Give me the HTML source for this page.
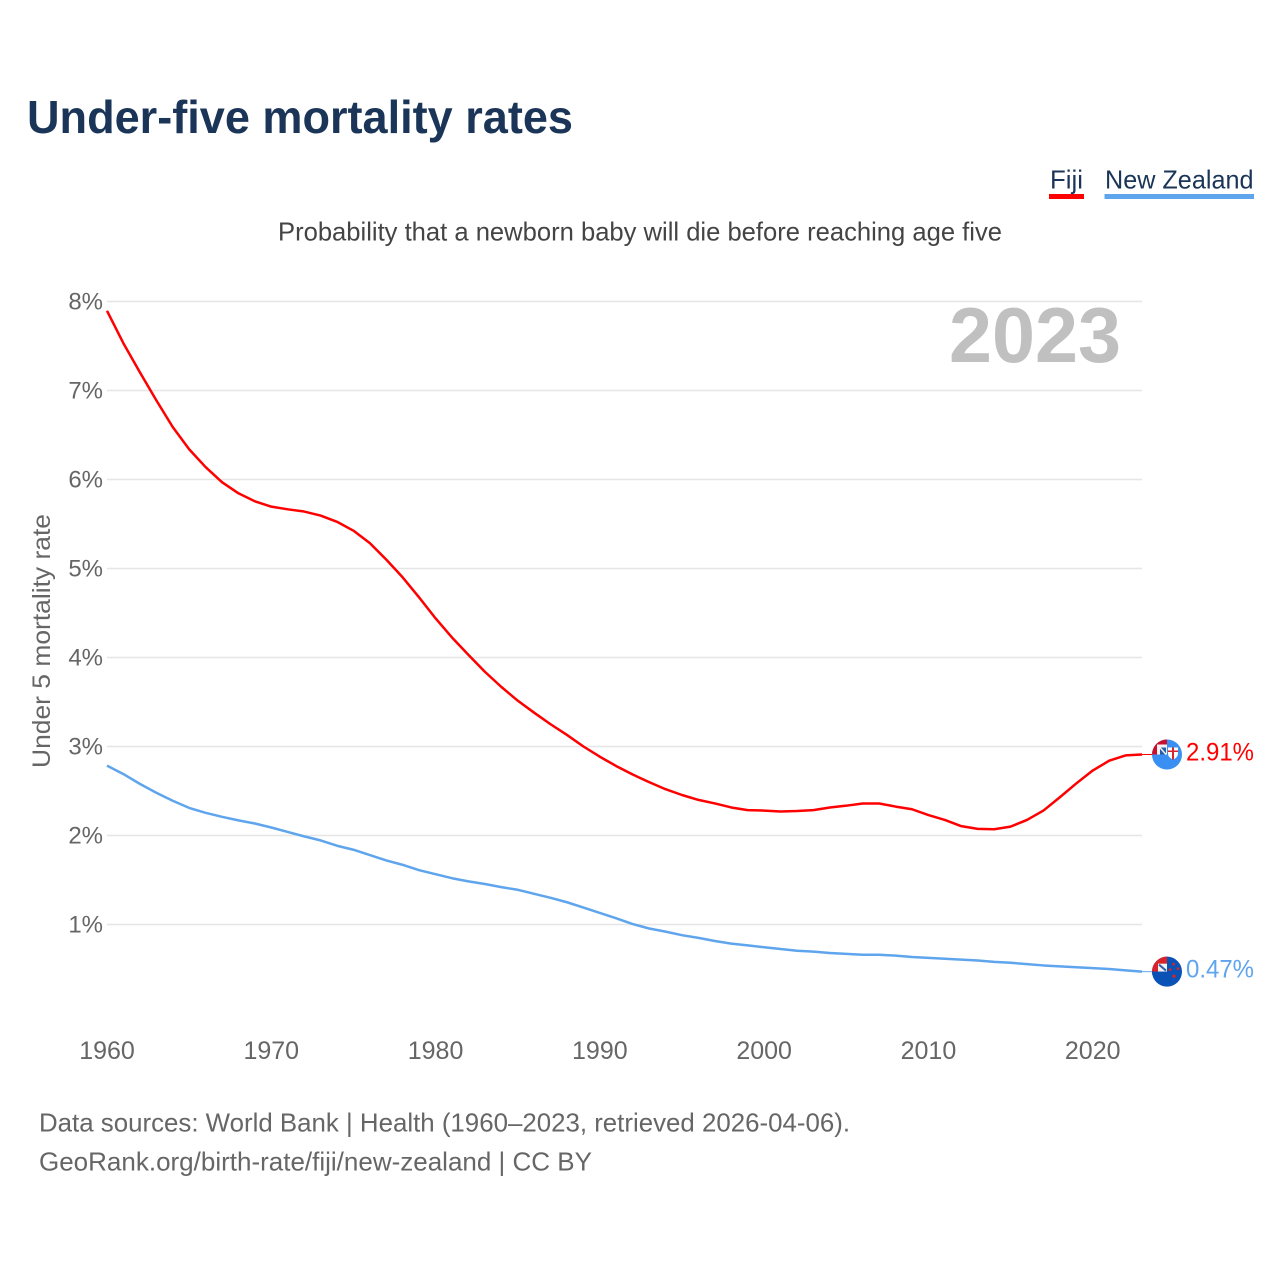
<!DOCTYPE html>
<html lang="en">
<head>
<meta charset="utf-8">
<title>Under-five mortality rates</title>
<style>
html,body{margin:0;padding:0;background:#fff;}
svg{display:block;}
text{font-family:"Liberation Sans",sans-serif;}
</style>
</head>
<body>
<svg id="chart" xmlns="http://www.w3.org/2000/svg" width="1280" height="1280" viewBox="0 0 1280 1280">
  <defs>
    <clipPath id="marker-clip"><circle cx="0" cy="0" r="15"></circle></clipPath>
  </defs>
  <rect x="0" y="0" width="1280" height="1280" fill="#ffffff"></rect>

  <text x="27" y="133" font-size="46" font-weight="700" fill="#1a3557" textLength="546" lengthAdjust="spacingAndGlyphs">Under-five mortality rates</text>

  <text x="1050" y="188.500" font-size="26" fill="#1a3557" textLength="33" lengthAdjust="spacingAndGlyphs">Fiji</text>
  <rect x="1049" y="194" width="35" height="5" fill="#ff0000"></rect>
  <text x="1105" y="188.500" font-size="26" fill="#1a3557" textLength="148.500" lengthAdjust="spacingAndGlyphs">New Zealand</text>
  <rect x="1104.5" y="194" width="149.5" height="5" fill="#5fa5ee"></rect>

  <text x="278" y="240.500" font-size="26" fill="#444444" textLength="724" lengthAdjust="spacingAndGlyphs">Probability that a newborn baby will die before reaching age five</text>

  <g id="grid"></g>
  <g id="y-ticks"></g>
  <g id="x-ticks"></g>

  <text transform="translate(50,768) rotate(-90)" x="0" y="0" font-size="25" fill="#666666" textLength="254" lengthAdjust="spacingAndGlyphs">Under 5 mortality rate</text>

  <text x="949" y="362" font-size="78" font-weight="700" fill="#c0c0c0" textLength="172" lengthAdjust="spacingAndGlyphs">2023</text>

  <g id="series"></g>

  <g id="marker-fiji">
    <g clip-path="url(#marker-clip)">
      <rect x="-16" y="-16" width="32" height="32" fill="#3a8ff2"></rect>
      <rect x="-16" y="-16" width="16" height="16" fill="#c8102e"></rect>
      <rect x="-10" y="-10" width="10" height="10" fill="#f2f2f2"></rect>
      <rect x="-7" y="-7" width="6" height="7" fill="#2a5caa"></rect>
      <path d="M-8-8L-1 0" stroke="#f2f2f2" stroke-width="1.500" fill="none"></path>
      <path d="M1-7H11V-1Q11 3 6 5Q1 3 1-1Z" fill="#ffffff"></path>
      <path d="M5-7H7V5H5ZM1-4H11V-2.500H1Z" fill="#d8232a"></path>
    </g>
  </g>
  <g id="marker-nz">
    <g clip-path="url(#marker-clip)">
      <rect x="-16" y="-16" width="32" height="32" fill="#0a52b5"></rect>
      <rect x="-16" y="-16" width="16" height="16" fill="#d8232a"></rect>
      <rect x="-9" y="-8" width="9" height="8" fill="#f2f2f2"></rect>
      <path d="M-8-7L-1-1" stroke="#2a5caa" stroke-width="2" fill="none"></path>
      <rect x="-16" y="0" width="16" height="4" fill="#0a52b5"></rect>
      <circle cx="6.500" cy="-7.500" r="1.400" fill="#d8232a"></circle>
      <circle cx="3" cy="-2" r="1.400" fill="#d8232a"></circle>
      <circle cx="11" cy="-3" r="1.400" fill="#d8232a"></circle>
      <circle cx="7" cy="4.500" r="1.700" fill="#d8232a"></circle>
    </g>
  </g>

  <text id="value-fiji" x="1186" font-size="25" fill="#ff0000" textLength="68" lengthAdjust="spacingAndGlyphs"></text>
  <text id="value-nz" x="1186" font-size="25" fill="#5fa5ee" textLength="68" lengthAdjust="spacingAndGlyphs"></text>

  <text x="39" y="1131.500" font-size="26" fill="#666666" textLength="811" lengthAdjust="spacingAndGlyphs">Data sources: World Bank | Health (1960–2023, retrieved 2026-04-06).</text>
  <text x="39" y="1170.500" font-size="26" fill="#666666" textLength="553" lengthAdjust="spacingAndGlyphs">GeoRank.org/birth-rate/fiji/new-zealand | CC BY</text>
</svg>

<script>
const firstYear = 1960;
const fijiValues = [
  7.895, 7.53, 7.205, 6.89, 6.59, 6.34, 6.14, 5.97, 5.845, 5.755,
  5.695, 5.665, 5.64, 5.595, 5.525, 5.425, 5.285, 5.10, 4.90, 4.675,
  4.44, 4.225, 4.03, 3.84, 3.67, 3.515, 3.38, 3.25, 3.13, 3.00,
  2.885, 2.78, 2.685, 2.60, 2.52, 2.455, 2.40, 2.36, 2.315, 2.285,
  2.28, 2.27, 2.275, 2.285, 2.315, 2.335, 2.36, 2.36, 2.325, 2.295,
  2.23, 2.175, 2.105, 2.075, 2.07, 2.10, 2.175, 2.28, 2.43, 2.585,
  2.73, 2.84, 2.90, 2.91
];
const newZealandValues = [
  2.785, 2.69, 2.58, 2.48, 2.39, 2.31, 2.255, 2.21, 2.17, 2.135,
  2.09, 2.04, 1.99, 1.945, 1.885, 1.84, 1.78, 1.72, 1.67, 1.61,
  1.565, 1.52, 1.485, 1.455, 1.42, 1.39, 1.345, 1.30, 1.25, 1.19,
  1.13, 1.07, 1.005, 0.955, 0.92, 0.88, 0.85, 0.815, 0.785, 0.765,
  0.745, 0.725, 0.705, 0.695, 0.68, 0.67, 0.66, 0.66, 0.65, 0.635,
  0.625, 0.615, 0.605, 0.595, 0.58, 0.57, 0.555, 0.54, 0.53, 0.52,
  0.51, 0.50, 0.485, 0.47
];
const yTickValues = [1, 2, 3, 4, 5, 6, 7, 8];
const xTickYears = [1960, 1970, 1980, 1990, 2000, 2010, 2020];

const NS = 'http://www.w3.org/2000/svg';
function xScale(year) { return 107 + (year - 1960) * (1142 - 107) / 63; }
function yScale(value) { return 1013.5 - value * 89; }

const gridGroup = document.getElementById('grid');
const yTickGroup = document.getElementById('y-ticks');
const xTickGroup = document.getElementById('x-ticks');
const seriesGroup = document.getElementById('series');

yTickValues.forEach(function (v) {
  const line = document.createElementNS(NS, 'line');
  
  
  line.setAttribute('x1', 107);
  line.setAttribute('x2', 1142);
  line.setAttribute('y1', yScale(v));
  line.setAttribute('y2', yScale(v));
  line.setAttribute('stroke', '#e6e6e6');
  line.setAttribute('stroke-width', 1.4);
  gridGroup.appendChild(line);

  const label = document.createElementNS(NS, 'text');
  
  
  label.setAttribute('x', 103);
  label.setAttribute('y', yScale(v) + 8);
  label.setAttribute('text-anchor', 'end');
  label.setAttribute('font-size', 24);
  label.setAttribute('fill', '#666666');
  label.textContent = v + '%';
  yTickGroup.appendChild(label);
});

xTickYears.forEach(function (year) {
  const label = document.createElementNS(NS, 'text');
  
  
  label.setAttribute('x', xScale(year));
  label.setAttribute('y', 1059);
  label.setAttribute('text-anchor', 'middle');
  label.setAttribute('font-size', 25);
  label.setAttribute('fill', '#666666');
  label.textContent = String(year);
  xTickGroup.appendChild(label);
});

function linePoints(values) {
  return values.map(function (v, i) {
    return xScale(firstYear + i).toFixed(2) + ',' + yScale(v).toFixed(2);
  }).join(' ');
}

const fijiLine = document.createElementNS(NS, 'polyline');


fijiLine.setAttribute('points', linePoints(fijiValues));
fijiLine.setAttribute('fill', 'none');
fijiLine.setAttribute('stroke', '#ff0000');
fijiLine.setAttribute('stroke-width', 2.5);
fijiLine.setAttribute('stroke-linejoin', 'round');

const nzLine = document.createElementNS(NS, 'polyline');


nzLine.setAttribute('points', linePoints(newZealandValues));
nzLine.setAttribute('fill', 'none');
nzLine.setAttribute('stroke', '#5fa5ee');
nzLine.setAttribute('stroke-width', 2.5);
nzLine.setAttribute('stroke-linejoin', 'round');

seriesGroup.appendChild(nzLine);
seriesGroup.appendChild(fijiLine);

const fijiLast = fijiValues[fijiValues.length - 1];
const nzLast = newZealandValues[newZealandValues.length - 1];

const fijiLead = document.createElementNS(NS, 'line');


fijiLead.setAttribute('x1', xScale(2023));
fijiLead.setAttribute('x2', 1152);
fijiLead.setAttribute('y1', yScale(fijiLast));
fijiLead.setAttribute('y2', yScale(fijiLast));
fijiLead.setAttribute('stroke', '#ff0000');
fijiLead.setAttribute('stroke-width', 1);
seriesGroup.appendChild(fijiLead);

const nzLead = document.createElementNS(NS, 'line');


nzLead.setAttribute('x1', xScale(2023));
nzLead.setAttribute('x2', 1152);
nzLead.setAttribute('y1', yScale(nzLast));
nzLead.setAttribute('y2', yScale(nzLast));
nzLead.setAttribute('stroke', '#5fa5ee');
nzLead.setAttribute('stroke-width', 1);
seriesGroup.appendChild(nzLead);

document.getElementById('marker-fiji').setAttribute('transform', 'translate(1167,' + yScale(fijiLast) + ')');
document.getElementById('marker-nz').setAttribute('transform', 'translate(1167,' + yScale(nzLast) + ')');

const fijiValueLabel = document.getElementById('value-fiji');
fijiValueLabel.setAttribute('y', yScale(fijiLast) + 6);
fijiValueLabel.textContent = fijiLast.toFixed(2) + '%';

const nzValueLabel = document.getElementById('value-nz');
nzValueLabel.setAttribute('y', yScale(nzLast) + 6);
nzValueLabel.textContent = nzLast.toFixed(2) + '%';
</script>
</body>
</html>
